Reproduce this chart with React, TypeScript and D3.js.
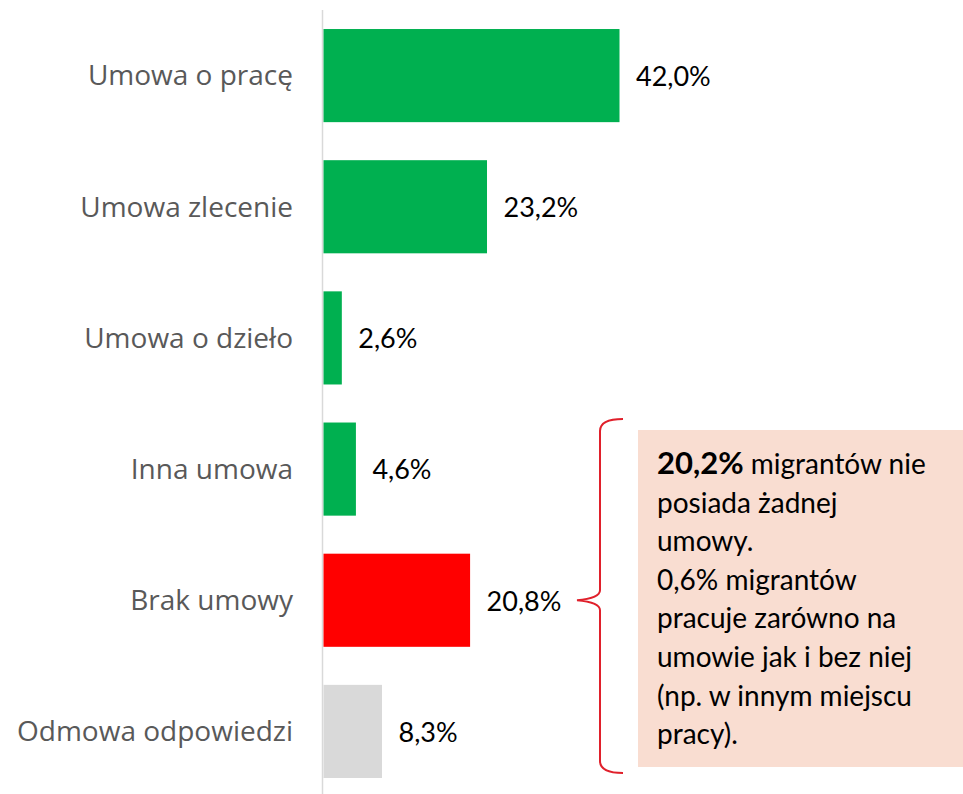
import React from "react";
import * as d3 from "d3";

const categories = ["Umowa o pracę", "Umowa zlecenie", "Umowa o dzieło", "Inna umowa", "Brak umowy", "Odmowa odpowiedzi"];
const values = [42.0, 23.2, 2.6, 4.6, 20.8, 8.3];
const colors = ["#00B050", "#00B050", "#00B050", "#00B050", "#FF0000", "#D9D9D9"];
const noteLines: { bold?: string; text: string }[] = [
  { bold: "20,2%", text: " migrantów nie" },
  { text: "posiada żadnej" },
  { text: "umowy." },
  { text: "0,6% migrantów" },
  { text: "pracuje zarówno na" },
  { text: "umowie jak i bez niej" },
  { text: "(np. w innym miejscu" },
  { text: "pracy)." },
];

const fmt = (v: number) => v.toFixed(1).replace(".", ",") + "%";

export default function App() {
  const W = 963, H = 794;
  const x = d3.scaleLinear().domain([0, 42]).range([323, 619]);
  const y = d3.scaleBand<string>().domain(categories).range([10, 797]).paddingInner(0.29).paddingOuter(0.145);
  const bw = y.bandwidth();

  // bracket spanning last two categories
  const bx = 600, tipX = 577;
  const bTop = 419, bBot = 773;
  const bMid = (y("Brak umowy")! + bw / 2 + 0);
  const bracket = `M${bx + 23},${bTop} Q${bx},${bTop} ${bx},${bTop + 12} L${bx},${bMid - 10} Q${bx},${bMid - 2} ${tipX},${bMid} Q${bx},${bMid + 2} ${bx},${bMid + 10} L${bx},${bBot - 12} Q${bx},${bBot} ${bx + 23},${bBot}`;

  return (
    <svg width={W} height={H} style={{ position: "absolute", left: 0, top: 0, background: "#fff" }}>
      <line x1={322.5} x2={322.5} y1={10} y2={794} stroke="#D9D9D9" strokeWidth={1.5} />
      {categories.map((c, i) => (
        <g key={c}>
          <rect x={x(0) + 0.5} y={y(c)} width={x(values[i]) - x(0)} height={bw} fill={colors[i]} />
          <text x={293} y={y(c)! + bw / 2} dy="0.35em" textAnchor="end" fontFamily="'Open Sans', sans-serif" fontSize={28} fill="#595959">{c}</text>
          <text x={x(values[i]) + 17} y={y(c)! + bw / 2} dy="0.38em" fontFamily="Lato, sans-serif" fontSize={27} fill="#000">{fmt(values[i])}</text>
        </g>
      ))}
      <path d={bracket} fill="none" stroke="#E0202B" strokeWidth={2} />
      <rect x={638} y={430} width={325} height={337} fill="#F9DDD1" />
      {noteLines.map((l, i) => (
        <text key={i} x={657} y={474 + i * 38.6} fontFamily="Lato, sans-serif" fontSize={28} fill="#000">
          {l.bold && <tspan fontWeight="bold" fontSize={31}>{l.bold}</tspan>}
          {l.text}
        </text>
      ))}
    </svg>
  );
}
